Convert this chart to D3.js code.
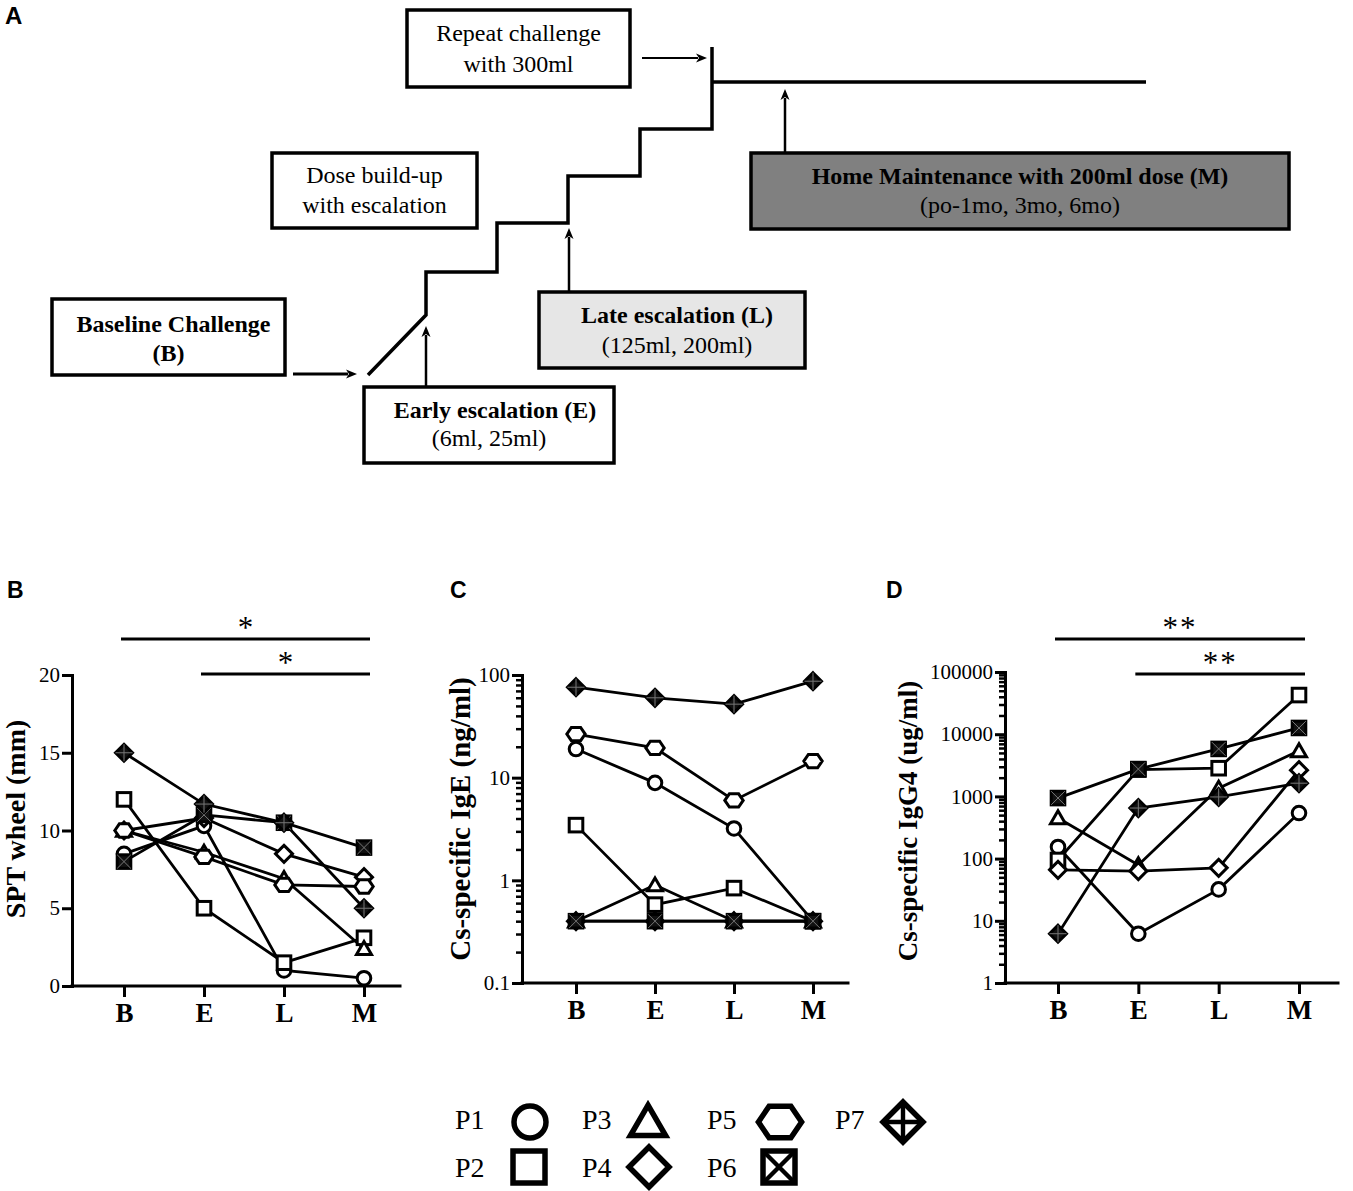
<!DOCTYPE html>
<html><head><meta charset="utf-8">
<script src="https://cdn.jsdelivr.net/npm/d3@7"></script>
<style>body{margin:0;background:#fff}svg{display:block}</style>
</head><body>
<svg id="chart" width="1353" height="1191" xmlns="http://www.w3.org/2000/svg"></svg>
<script>
// ---------------- DATA ----------------
const timepoints = ["B", "E", "L", "M"];
const patients = ["P1", "P2", "P3", "P4", "P5", "P6", "P7"];
const shapes = ["circle", "square", "triangle", "diamond", "hexagon", "squareX", "diamondPlus"];

// Panel B: SPT wheel (mm), one row per patient P1..P7, columns B,E,L,M
const sptValues = [
  [8.5, 10.3, 1.0, 0.5],
  [12.0, 5.0, 1.5, 3.1],
  [10.0, 8.6, 6.9, 2.4],
  [10.0, 10.8, 8.5, 7.0],
  [10.0, 8.3, 6.5, 6.4],
  [8.0, 11.0, 10.5, 8.9],
  [15.0, 11.7, 10.5, 5.0]
];
// Panel C: Cs-specific IgE (ng/ml)
const igeValues = [
  [19, 8.9, 3.2, 0.4],
  [3.45, 0.58, 0.84, 0.4],
  [0.4, 0.9, 0.4, 0.4],
  [0.4, 0.4, 0.4, 0.4],
  [26.6, 19.5, 6.0, 14.5],
  [0.4, 0.4, 0.4, 0.4],
  [76, 60, 52, 87]
];
// Panel D: Cs-specific IgG4 (ug/ml); P5 not shown
const igg4Values = [
  [154, 6.2, 32, 540],
  [95, 2700, 2840, 42600],
  [450, 79, 1350, 5400],
  [66, 63, 71, 2640],
  null,
  [940, 2750, 5800, 12600],
  [6.2, 650, 980, 1630]
];

const sptTicks = [0, 5, 10, 15, 20];
const sptTickLabels = ["0", "5", "10", "15", "20"];
const igeTicks = [0.1, 1, 10, 100];
const igeTickLabels = ["0.1", "1", "10", "100"];
const igg4Ticks = [1, 10, 100, 1000, 10000, 100000];
const igg4TickLabels = ["1", "10", "100", "1000", "10000", "100000"];

const sptSig = [["B", "M", "*"], ["E", "M", "*"]];
const igg4Sig = [["B", "M", "**"], ["E", "M", "**"]];

// ---------------- RENDER ----------------
const SERIF = "'Liberation Serif','Times New Roman',serif";
const SANS = "'Liberation Sans',Arial,sans-serif";
const svg = d3.select("#chart");

function drawMarker(g, shape, s, sw, solid) {
  const fill = solid ? "#111" : "#fff";
  const inner = solid ? "#777" : "#000";
  const innerW = solid ? 1 : sw * 0.8;
  const st = el => el.attr("fill", fill).attr("stroke", "#000").attr("stroke-width", sw).attr("stroke-linejoin", "miter");
  if (shape === "circle") st(g.append("circle").attr("r", s));
  else if (shape === "square" || shape === "squareX") {
    st(g.append("rect").attr("x", -s).attr("y", -s).attr("width", 2 * s).attr("height", 2 * s));
    if (shape === "squareX") {
      g.append("path").attr("d", `M${-s},${-s}L${s},${s}M${s},${-s}L${-s},${s}`)
        .attr("stroke", inner).attr("stroke-width", innerW);
    }
  } else if (shape === "triangle") {
    st(g.append("path").attr("d", `M0,${-s * 1.05}L${s * 1.1},${s * 0.85}L${-s * 1.1},${s * 0.85}Z`));
  } else if (shape === "diamond" || shape === "diamondPlus") {
    const d = s * 1.25;
    st(g.append("path").attr("d", `M0,${-d}L${d},0L0,${d}L${-d},0Z`));
    if (shape === "diamondPlus") {
      g.append("path").attr("d", `M0,${-d}V${d}M${-d},0H${d}`)
        .attr("stroke", inner).attr("stroke-width", innerW);
    }
  } else if (shape === "hexagon") {
    const w = s * 1.35, h = s * 0.98, w2 = s * 0.68;
    st(g.append("path").attr("d", `M${-w},0L${-w2},${-h}L${w2},${-h}L${w},0L${w2},${h}L${-w2},${h}Z`));
  }
}

function panel(cfg) {
  const g = svg.append("g");
  const x = d3.scalePoint().domain(timepoints).range([cfg.xFirst, cfg.xLast]);
  const y = (cfg.log ? d3.scaleLog() : d3.scaleLinear()).domain(cfg.domain).range([cfg.yBot, cfg.yTop]);

  // y axis
  const ya = g.append("g").attr("transform", `translate(${cfg.x0},0)`)
    .call(d3.axisLeft(y).tickValues(cfg.ticks).tickFormat((d, i) => cfg.tickLabels[i]).tickSize(10).tickSizeOuter(0).tickPadding(2));
  ya.select(".domain").attr("stroke-width", 3).attr("stroke-linecap", "square");
  ya.selectAll(".tick line").attr("stroke-width", 3);
  ya.selectAll(".tick text").attr("font-family", SERIF).attr("font-size", 21).attr("fill", "#000");
  if (cfg.log) {
    const minors = [];
    const lo = Math.log10(cfg.domain[0]), hi = Math.log10(cfg.domain[1]);
    for (let e = lo; e < hi; e++) for (let k = 2; k <= 9; k++) minors.push(k * Math.pow(10, e));
    const ma = g.append("g").attr("transform", `translate(${cfg.x0},0)`)
      .call(d3.axisLeft(y).tickValues(minors).tickFormat("").tickSize(6).tickSizeOuter(0));
    ma.select(".domain").remove();
    ma.selectAll(".tick line").attr("stroke-width", 2.5);
  }
  // x axis
  const xa = g.append("g").attr("transform", `translate(0,${cfg.yBot})`)
    .call(d3.axisBottom(x).tickSize(11).tickPadding(7));
  xa.select(".domain").attr("d", `M${cfg.x0},0H${cfg.xEnd}`).attr("stroke-width", 3).attr("stroke-linecap", "square");
  xa.selectAll(".tick line").attr("stroke-width", 3);
  xa.selectAll(".tick text").attr("font-family", SERIF).attr("font-size", 27).attr("font-weight", "bold").attr("fill", "#000").attr("dy", "0.68em");

  // y label
  g.append("text").attr("transform", `translate(${cfg.labelX},${cfg.labelY}) rotate(-90)`)
    .attr("text-anchor", "middle").attr("font-family", SERIF).attr("font-weight", "bold")
    .attr("font-size", cfg.labelSize).text(cfg.label);

  // lines
  const line = d3.line().x((d, i) => x(timepoints[i])).y(d => y(d));
  cfg.values.forEach(v => {
    if (!v) return;
    g.append("path").attr("d", line(v)).attr("fill", "none").attr("stroke", "#000").attr("stroke-width", 2.8);
  });
  // markers
  cfg.values.forEach((v, p) => {
    if (!v) return;
    v.forEach((d, i) => {
      const mg = g.append("g").attr("transform", `translate(${x(timepoints[i])},${y(d)})`);
      drawMarker(mg, shapes[p], 6.8, 3, shapes[p] === "diamondPlus" || shapes[p] === "squareX");
    });
  });
  // significance
  (cfg.sig || []).forEach((s, k) => {
    const yy = cfg.sigY[k];
    const x1 = x(s[0]) - 3, x2 = x(s[1]) + 6;
    g.append("line").attr("x1", x1).attr("x2", x2).attr("y1", yy).attr("y2", yy).attr("stroke", "#000").attr("stroke-width", 3);
    g.append("text").attr("x", (x1 + x2) / 2).attr("y", yy - 1).attr("text-anchor", "middle")
      .attr("font-family", SERIF).attr("font-size", 31).attr("letter-spacing", s[2].length > 1 ? 2 : 0).text(s[2]);
  });
  // panel letter
  svg.append("text").attr("x", cfg.letterX).attr("y", 598).attr("font-family", SANS).attr("font-weight", "bold")
    .attr("font-size", 23).text(cfg.letter);
}

panel({letter: "B", letterX: 7, values: sptValues, log: false, domain: [0, 20], ticks: sptTicks, tickLabels: sptTickLabels,
  x0: 72, yTop: 675, yBot: 986, xFirst: 124, xLast: 364, xEnd: 400,
  label: "SPT wheel (mm)", labelX: 25, labelY: 819, labelSize: 28, sig: sptSig, sigY: [639, 674]});
panel({letter: "C", letterX: 450, values: igeValues, log: true, domain: [0.1, 100], ticks: igeTicks, tickLabels: igeTickLabels,
  x0: 522, yTop: 675, yBot: 983, xFirst: 576, xLast: 813, xEnd: 848,
  label: "Cs-specific IgE (ng/ml)", labelX: 470, labelY: 819, labelSize: 29});
panel({letter: "D", letterX: 886, values: igg4Values, log: true, domain: [1, 100000], ticks: igg4Ticks, tickLabels: igg4TickLabels,
  x0: 1005, yTop: 672, yBot: 983, xFirst: 1058, xLast: 1299, xEnd: 1338,
  label: "Cs-specific IgG4 (ug/ml)", labelX: 917, labelY: 821, labelSize: 27, sig: igg4Sig, sigY: [639, 674]});

// ---------------- LEGEND ----------------
const legendCol = [455, 455, 582, 582, 707, 707, 835];
const legendRow = [0, 1, 0, 1, 0, 1, 0];
const legendSym = [530, 529, 648, 649, 780, 779, 903];
const lg = svg.append("g");
patients.forEach((p, i) => {
  const by = legendRow[i] ? 1177 : 1129;
  const cy = legendRow[i] ? 1167 : 1122;
  lg.append("text").attr("x", legendCol[i]).attr("y", by).attr("font-family", SERIF).attr("font-size", 28).text(p);
  const mg = lg.append("g").attr("transform", `translate(${legendSym[i]},${cy})`);
  drawMarker(mg, shapes[i], 16, 5.5, false);
});

// ---------------- DIAGRAM A ----------------
svg.append("text").attr("x", 5).attr("y", 24).attr("font-family", SANS).attr("font-weight", "bold").attr("font-size", 24).text("A");
const diag = svg.append("g");
const boxes = [
  {x: 52, y: 299, w: 233, h: 76, fill: "#fff", lines: [["Baseline Challenge", true, 332, 5], ["(B)", true, 361, 0]]},
  {x: 272, y: 153, w: 205, h: 75, fill: "#fff", lines: [["Dose build-up", false, 183, 0], ["with escalation", false, 213, 0]]},
  {x: 407, y: 10, w: 223, h: 77, fill: "#fff", lines: [["Repeat challenge", false, 41, 0], ["with 300ml", false, 72, 0]]},
  {x: 364, y: 387, w: 250, h: 76, fill: "#fff", lines: [["Early escalation (E)", true, 418, 6], ["(6ml, 25ml)", false, 446, 0]]},
  {x: 539, y: 292, w: 266, h: 76, fill: "#e6e6e6", lines: [["Late escalation (L)", true, 323, 5], ["(125ml, 200ml)", false, 353, 5]]},
  {x: 751, y: 153, w: 538, h: 76, fill: "#808080", lines: [["Home Maintenance with 200ml dose (M)", true, 184, 0], ["(po-1mo, 3mo, 6mo)", false, 213, 0]]}
];
boxes.forEach(b => {
  diag.append("rect").attr("x", b.x).attr("y", b.y).attr("width", b.w).attr("height", b.h)
    .attr("fill", b.fill).attr("stroke", "#000").attr("stroke-width", 3.5);
  b.lines.forEach(l => {
    diag.append("text").attr("x", b.x + b.w / 2 + l[3]).attr("y", l[2]).attr("text-anchor", "middle")
      .attr("font-family", SERIF).attr("font-size", 24).attr("font-weight", l[1] ? "bold" : "normal").text(l[0]);
  });
});
// staircase
diag.append("path").attr("d", "M368,375L426,315V272H497V223H568V176H640V129H712V47M712,82H1146")
  .attr("fill", "none").attr("stroke", "#000").attr("stroke-width", 3.5).attr("stroke-linejoin", "miter");
function arrow(x1, y1, x2, y2, sw) {
  const a = Math.atan2(y2 - y1, x2 - x1);
  const L = 11, W = 4.5;
  const bx = x2 - L * Math.cos(a), by = y2 - L * Math.sin(a);
  diag.append("line").attr("x1", x1).attr("y1", y1).attr("x2", bx + 2 * Math.cos(a)).attr("y2", by + 2 * Math.sin(a))
    .attr("stroke", "#000").attr("stroke-width", sw);
  const px = -Math.sin(a), py = Math.cos(a);
  const ix = x2 - (L - 3) * Math.cos(a), iy = y2 - (L - 3) * Math.sin(a);
  diag.append("path").attr("d", `M${x2},${y2}L${bx + W * px},${by + W * py}L${ix},${iy}L${bx - W * px},${by - W * py}Z`).attr("fill", "#000");
}
arrow(293, 374, 357, 374, 3);
arrow(642, 58, 707, 58, 2);
arrow(426, 387, 426, 326, 2.5);
arrow(569, 292, 569, 228, 2.5);
arrow(785, 153, 785, 89, 2.5);
</script>
</body></html>
